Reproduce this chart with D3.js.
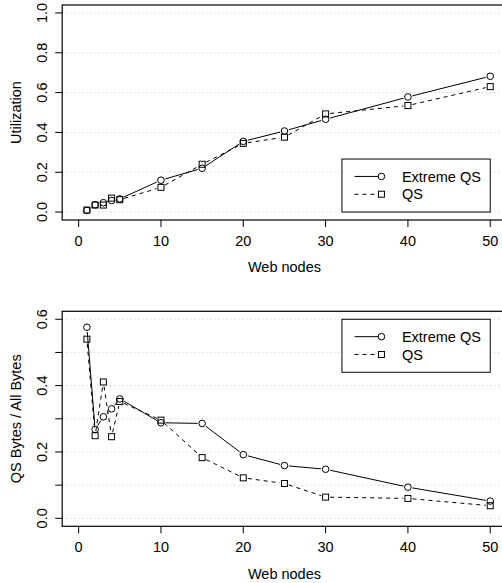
<!DOCTYPE html>
<html>
<head>
<meta charset="utf-8">
<script src="https://cdn.jsdelivr.net/npm/d3@7"></script>
<style>
  body { margin: 0; background: #fff; }
  text { font-family: "Liberation Sans", Arial, Helvetica, sans-serif; font-size: 14.5px; fill: #000; }
</style>
</head>
<body>
<svg id="chart" width="502" height="583"></svg>
<script>
// Data
const nodes = [1, 2, 3, 4, 5, 10, 15, 20, 25, 30, 40, 50];
const utilExtreme = [0.008, 0.037, 0.047, 0.058, 0.066, 0.16, 0.22, 0.355, 0.407, 0.466, 0.578, 0.682];
const utilQS = [0.01, 0.035, 0.035, 0.07, 0.062, 0.124, 0.24, 0.345, 0.376, 0.493, 0.535, 0.63];
const bytesExtreme = [0.576, 0.268, 0.306, 0.33, 0.36, 0.288, 0.286, 0.192, 0.159, 0.148, 0.094, 0.052];
const bytesQS = [0.54, 0.249, 0.411, 0.246, 0.352, 0.296, 0.183, 0.122, 0.105, 0.064, 0.06, 0.038];
const seriesNames = ["Extreme QS", "QS"];
const xTicks = [0, 10, 20, 30, 40, 50];
const utilTicks = [0, 0.2, 0.4, 0.6, 0.8, 1.0];
const bytesTicks = [0, 0.1, 0.2, 0.3, 0.4, 0.5, 0.6];

const svg = d3.select("#chart");

// R-style x range: 0..50 padded by 4%
const x = d3.scaleLinear().domain([-2, 52]).range([62.2, 506.7]);

function drawPanel(opts) {
    const { top, bottom, yDomain, ticks, labelEvery, yTitle, series, legendAt } = opts;
    const pad = (yDomain[1] - yDomain[0]) * 0.04;
    const y = d3.scaleLinear().domain([yDomain[0] - pad, yDomain[1] + pad]).range([bottom, top]);
    const g = svg.append("g");

    // dotted grid
    g.selectAll(".grid")
        .data(ticks)
        .enter().append("line")
        .attr("x1", x.range()[0]).attr("x2", x.range()[1])
        .attr("y1", d => y(d)).attr("y2", d => y(d))
        .attr("stroke", "#c4c4c4")
        .attr("stroke-width", 1)
        .attr("stroke-dasharray", "1,3");

    // box (right side falls outside the picture)
    g.append("rect")
        .attr("x", x.range()[0]).attr("y", top)
        .attr("width", x.range()[1] - x.range()[0]).attr("height", bottom - top)
        .attr("fill", "none").attr("stroke", "#000").attr("stroke-width", 1.2);

    // x axis ticks
    g.selectAll(".xt").data(xTicks).enter().append("line")
        .attr("x1", d => x(d)).attr("x2", d => x(d))
        .attr("y1", bottom).attr("y2", bottom + 7)
        .attr("stroke", "#000");
    g.selectAll(".xl").data(xTicks).enter().append("text")
        .attr("x", d => x(d)).attr("y", bottom + 25.5)
        .attr("text-anchor", "middle")
        .text(d => d);
    g.append("text")
        .attr("x", (x(0) + x(50)) / 2).attr("y", bottom + 52.3)
        .attr("text-anchor", "middle")
        .text("Web nodes");

    // y axis ticks
    g.selectAll(".yt").data(ticks).enter().append("line")
        .attr("x1", x.range()[0] - 7).attr("x2", x.range()[0])
        .attr("y1", d => y(d)).attr("y2", d => y(d))
        .attr("stroke", "#000");
    g.selectAll(".yl").data(ticks.filter((d, i) => i % labelEvery === 0)).enter().append("text")
        .attr("transform", d => `translate(47,${y(d)}) rotate(-90)`)
        .attr("text-anchor", "middle")
        .text(d => d.toFixed(1));
    g.append("text")
        .attr("transform", `translate(20.7,${(top + bottom) / 2}) rotate(-90)`)
        .attr("text-anchor", "middle")
        .text(yTitle);

    // lines with gaps around the points (type = "b")
    const gap = 4.6;
    series.forEach((s, si) => {
        const pts = nodes.map((n, i) => [x(n), y(s[i])]);
        const segs = [];
        for (let i = 0; i < pts.length - 1; i++) {
            const [x0, y0] = pts[i], [x1, y1] = pts[i + 1];
            const len = Math.hypot(x1 - x0, y1 - y0);
            if (len <= 2 * gap) continue;
            const ux = (x1 - x0) / len, uy = (y1 - y0) / len;
            segs.push([x0 + ux * gap, y0 + uy * gap, x1 - ux * gap, y1 - uy * gap]);
        }
        g.selectAll(".seg" + si).data(segs).enter().append("line")
            .attr("x1", d => d[0]).attr("y1", d => d[1])
            .attr("x2", d => d[2]).attr("y2", d => d[3])
            .attr("stroke", "#000").attr("stroke-width", 1)
            .attr("stroke-dasharray", si === 1 ? "4,4" : null);
        drawSymbols(g, pts, si);
    });

    // legend
    const lw = 148.3, lh = 53;
    const lx = x(50) - lw;
    const ly = legendAt === "bottom" ? y(0) - lh : y(yDomain[1]);
    g.append("rect")
        .attr("x", lx).attr("y", ly).attr("width", lw).attr("height", lh)
        .attr("fill", "#fff").attr("stroke", "#000").attr("stroke-width", 1);
    seriesNames.forEach((name, i) => {
        const ry = ly + 17.4 + i * 17.8;
        g.append("line")
            .attr("x1", lx + 12.6).attr("x2", lx + 36.6)
            .attr("y1", ry).attr("y2", ry)
            .attr("stroke", "#000")
            .attr("stroke-dasharray", i === 1 ? "4,4" : null);
        drawSymbols(g, [[lx + 39.5, ry]], i);
        g.append("text")
            .attr("x", lx + 60).attr("y", ry + 5.2)
            .text(name);
    });
}

function drawSymbols(g, pts, si) {
    if (si === 0) {
        g.selectAll(null).data(pts).enter().append("circle")
            .attr("cx", d => d[0]).attr("cy", d => d[1]).attr("r", 3.3)
            .attr("fill", "none").attr("stroke", "#000").attr("stroke-width", 1);
    } else {
        g.selectAll(null).data(pts).enter().append("rect")
            .attr("x", d => d[0] - 3).attr("y", d => d[1] - 3)
            .attr("width", 6).attr("height", 6)
            .attr("fill", "none").attr("stroke", "#000").attr("stroke-width", 1);
    }
}

drawPanel({
    top: 5, bottom: 220, yDomain: [0, 1], ticks: utilTicks, labelEvery: 1,
    yTitle: "Utilization", series: [utilExtreme, utilQS], legendAt: "bottom"
});
drawPanel({
    top: 311.3, bottom: 526.3, yDomain: [0, 0.6], ticks: bytesTicks, labelEvery: 2,
    yTitle: "QS Bytes / All Bytes", series: [bytesExtreme, bytesQS], legendAt: "top"
});
</script>
</body>
</html>
